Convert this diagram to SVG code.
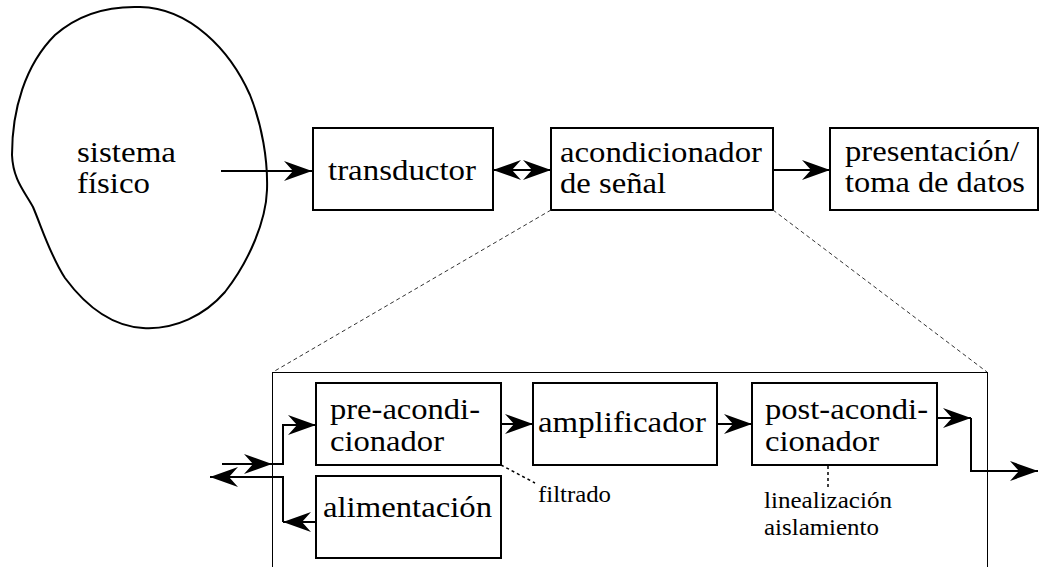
<svg xmlns="http://www.w3.org/2000/svg" width="1047" height="567" viewBox="0 0 1047 567">
  <style>
    .box { fill: #fff; stroke: #000; stroke-width: 2; }
    .lbl { font-family: 'Liberation Serif', 'Times New Roman', Tinos, 'Nimbus Roman', 'DejaVu Serif', 'Noto Serif', FreeSerif, serif; font-size: 30px; fill: #000; }
    .note { font-family: 'Liberation Serif', 'Times New Roman', Tinos, 'Nimbus Roman', 'DejaVu Serif', 'Noto Serif', FreeSerif, serif; font-size: 23px; fill: #000; }
    .wire { fill: none; stroke: #000; stroke-width: 2; }
    .arr { marker-end: url(#head); }
    .zoom { fill: none; stroke: #333; stroke-width: 1; stroke-dasharray: 4 3; }
    .dot { fill: none; stroke: #000; stroke-width: 1.5; stroke-dasharray: 3 3; }
  </style>
  <defs>
    <marker id="head" markerUnits="userSpaceOnUse" markerWidth="30" markerHeight="22" refX="28" refY="10" orient="auto-start-reverse" overflow="visible">
      <path d="M28,10 L0,0 L9,10 L0,20 Z" fill="#000"/>
    </marker>
  </defs>

  <rect width="1047" height="567" fill="#fff"/>

  <!-- physical system -->
  <g id="sistema">
    <path d="M143,328 C110,326 85,305 65,278 C50,255 42,228 33,207 C25,192 13,180 12,155 C12,110 25,65 55,35 C80,13 110,6 140,7 C190,8 230,50 250,95 C262,125 268,160 267,190 C266,220 250,260 225,292 C205,315 175,330 143,328 Z" fill="none" stroke="#000" stroke-width="2"/>
    <text class="lbl" x="77" y="162" textLength="99" lengthAdjust="spacingAndGlyphs">sistema</text>
    <text class="lbl" x="77" y="193" textLength="73" lengthAdjust="spacingAndGlyphs">físico</text>
  </g>

  <g id="transductor">
    <rect class="box" x="313" y="128" width="180" height="82"/>
    <text class="lbl" x="328" y="180" textLength="148" lengthAdjust="spacingAndGlyphs">transductor</text>
  </g>

  <g id="acondicionador">
    <rect class="box" x="551" y="128" width="222" height="82"/>
    <text class="lbl" x="560" y="162" textLength="202" lengthAdjust="spacingAndGlyphs">acondicionador</text>
    <text class="lbl" x="560" y="193" textLength="106" lengthAdjust="spacingAndGlyphs">de señal</text>
  </g>

  <g id="presentacion">
    <rect class="box" x="830" y="128" width="208" height="82"/>
    <text class="lbl" x="845" y="161" textLength="174" lengthAdjust="spacingAndGlyphs">presentación/</text>
    <text class="lbl" x="845" y="192" textLength="180" lengthAdjust="spacingAndGlyphs">toma de datos</text>
  </g>

  <!-- expanded view of the signal conditioner -->
  <g id="detalle">
    <rect x="272.5" y="372.5" width="715" height="220" fill="none" stroke="#000" stroke-width="1"/>
  </g>

  <g id="pre-acondicionador">
    <rect class="box" x="316" y="383" width="185" height="82"/>
    <text class="lbl" x="330" y="419" textLength="150" lengthAdjust="spacingAndGlyphs">pre-acondi-</text>
    <text class="lbl" x="330" y="451" textLength="114" lengthAdjust="spacingAndGlyphs">cionador</text>
  </g>

  <g id="alimentacion">
    <rect class="box" x="316" y="476" width="185" height="82"/>
    <text class="lbl" x="323" y="517" textLength="169" lengthAdjust="spacingAndGlyphs">alimentación</text>
  </g>

  <g id="amplificador">
    <rect class="box" x="533" y="383" width="184" height="82"/>
    <text class="lbl" x="538" y="432" textLength="168" lengthAdjust="spacingAndGlyphs">amplificador</text>
  </g>

  <g id="post-acondicionador">
    <rect class="box" x="752" y="383" width="185" height="82"/>
    <text class="lbl" x="765" y="419" textLength="163" lengthAdjust="spacingAndGlyphs">post-acondi-</text>
    <text class="lbl" x="765" y="451" textLength="114" lengthAdjust="spacingAndGlyphs">cionador</text>
  </g>

  <g id="notas">
    <text class="note" x="538" y="502" textLength="73" lengthAdjust="spacingAndGlyphs">filtrado</text>
    <text class="note" x="764" y="508" textLength="128" lengthAdjust="spacingAndGlyphs">linealización</text>
    <text class="note" x="764" y="535" textLength="115" lengthAdjust="spacingAndGlyphs">aislamiento</text>
  </g>

  <g id="conectores">
    <!-- zoom guides -->
    <line class="zoom" x1="551" y1="210" x2="273" y2="372"/>
    <line class="zoom" x1="773" y1="210" x2="987" y2="372"/>
    <!-- annotation leaders -->
    <line class="dot" x1="501" y1="465" x2="535" y2="483"/>
    <line class="dot" x1="828" y1="466" x2="828" y2="489"/>

    <!-- top chain -->
    <path class="wire arr" d="M221,171 H312"/>
    <path class="wire" d="M493,170 H551" marker-start="url(#head)" marker-end="url(#head)"/>
    <path class="wire arr" d="M773,170 H830"/>

    <!-- input to pre-conditioner -->
    <path class="wire arr" d="M222,464 H272"/>
    <path class="wire arr" d="M272,464 H283 V425 H316"/>
    <!-- power supply feedback -->
    <path class="wire arr" d="M316,522 H283"/>
    <path class="wire arr" d="M283,522 V477 H210"/>

    <!-- inner chain -->
    <path class="wire arr" d="M501,424 H533"/>
    <path class="wire arr" d="M717,424 H752"/>
    <path class="wire arr" d="M937,418 H971"/>
    <path class="wire arr" d="M971,418 V471 H1038"/>
  </g>
</svg>
